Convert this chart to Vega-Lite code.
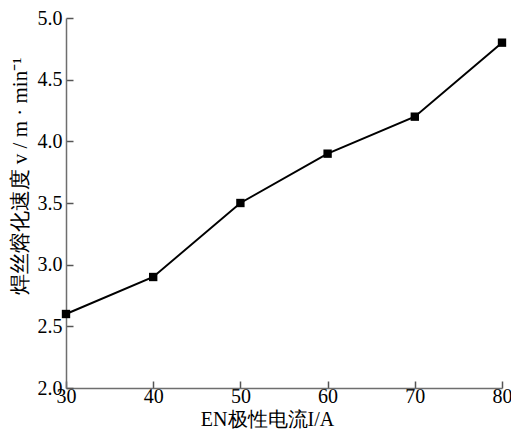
{
  "$schema": "https://vega.github.io/schema/vega-lite/v6.json",
  "width": 436,
  "height": 370,
  "autosize": {"type": "none"},
  "padding": {"left": 66, "top": 18, "right": 9, "bottom": 41},
  "background": "white",
  "config": {
    "view": {"stroke": null}
  },
  "data": {
    "values": [
      {"I": 30, "v": 2.6},
      {"I": 40, "v": 2.9},
      {"I": 50, "v": 3.5},
      {"I": 60, "v": 3.9},
      {"I": 70, "v": 4.2},
      {"I": 80, "v": 4.8}
    ]
  },
  "encoding": {
    "x": {
      "field": "I",
      "type": "quantitative",
      "scale": {"domain": [30, 80], "nice": false, "zero": false},
      "axis": {
        "values": [30, 40, 50, 60, 70, 80],
        "title": "EN极性电流I/A",
        "grid": false,
        "ticks": true,
        "tickSize": -7,
        "tickWidth": 1.5,
        "tickColor": "#555555",
        "domainColor": "#6e6e6e",
        "domainWidth": 1.5,
        "labelFont": "Liberation Serif",
        "labelFontSize": 20,
        "labelColor": "black",
        "labelBaseline": "top",
        "labelPadding": 5,
        "labelFlush": false,
        "labelOverlap": false,
        "titleFont": "Liberation Serif",
        "titleFontSize": 20,
        "titleFontWeight": "normal",
        "titleColor": "black",
        "titleBaseline": "alphabetic",
        "titleX": 201,
        "titleY": 37
      }
    },
    "y": {
      "field": "v",
      "type": "quantitative",
      "scale": {"domain": [2.0, 5.0], "nice": false, "zero": false},
      "axis": {
        "values": [2.0, 2.5, 3.0, 3.5, 4.0, 4.5, 5.0],
        "format": ".1f",
        "title": "焊丝熔化速度 v / m · min⁻¹",
        "grid": false,
        "ticks": true,
        "tickSize": -7,
        "tickWidth": 1.5,
        "tickColor": "#555555",
        "domainColor": "#6e6e6e",
        "domainWidth": 1.5,
        "labelFont": "Liberation Serif",
        "labelFontSize": 20,
        "labelColor": "black",
        "labelAlign": "right",
        "labelPadding": 11,
        "labelFlush": false,
        "labelOverlap": false,
        "titleFont": "Liberation Serif",
        "titleFontSize": 21,
        "titleFontWeight": "normal",
        "titleColor": "black",
        "titleAngle": -90,
        "titleBaseline": "middle",
        "titleX": -46,
        "titleY": 158
      }
    }
  },
  "layer": [
    {"mark": {"type": "line", "color": "black", "strokeWidth": 2}},
    {"mark": {"type": "point", "shape": "square", "filled": true, "color": "black", "size": 70, "opacity": 1}}
  ]
}
